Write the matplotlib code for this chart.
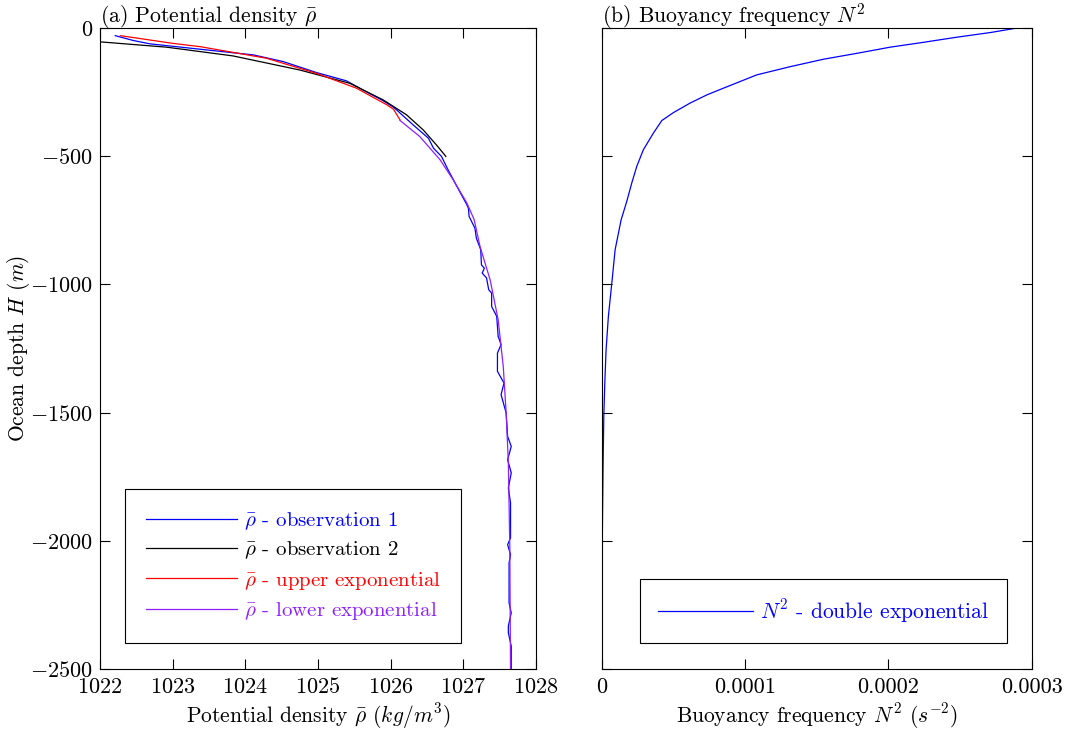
import matplotlib
matplotlib.use("Agg")
import matplotlib.pyplot as plt
import numpy as np

plt.rcParams["font.family"] = "serif"
plt.rcParams["font.serif"] = ["cmr10", "DejaVu Serif"]
plt.rcParams["mathtext.fontset"] = "cm"
plt.rcParams["axes.formatter.use_mathtext"] = True
plt.rcParams["font.size"] = 15

# observation 1 (depth in m, potential density in kg/m^3)
obs1_depth = [-30, -49, -62, -83, -105, -131, -174, -206, -242, -281, -309, -378, -430,
              -469, -501, -553, -638, -690, -703, -735, -781, -820, -865, -924, -937,
              -956, -975, -1021, -1034, -1086, -1125, -1203, -1235, -1268, -1339, -1385,
              -1430, -1502, -1593, -1632, -1684, -1735, -1794, -1852, -1989, -2015,
              -2054, -2087, -2242, -2281, -2333, -2359, -2411, -2500]
obs1_rho = [1022.21, 1022.46, 1022.69, 1023.38, 1024.11, 1024.52, 1024.98, 1025.39,
            1025.62, 1025.88, 1026.04, 1026.31, 1026.52, 1026.59, 1026.70, 1026.79,
            1026.95, 1027.05, 1027.07, 1027.08, 1027.16, 1027.18, 1027.24, 1027.25,
            1027.29, 1027.26, 1027.32, 1027.35, 1027.39, 1027.39, 1027.46, 1027.48,
            1027.52, 1027.47, 1027.47, 1027.56, 1027.52, 1027.59, 1027.61, 1027.66,
            1027.61, 1027.66, 1027.62, 1027.65, 1027.65, 1027.61, 1027.65, 1027.63,
            1027.63, 1027.66, 1027.62, 1027.62, 1027.66, 1027.66]

# observation 2
obs2_depth = [-53, -75, -109, -164, -216, -281, -339, -398, -456, -501]
obs2_rho = [1021.95, 1022.92, 1023.83, 1024.75, 1025.44, 1025.90, 1026.22, 1026.45,
            1026.63, 1026.76]

# upper exponential fit
upper_depth = [-30, -60, -73, -118, -177, -235, -300, -317, -359]
upper_rho = [1022.28, 1023.0, 1023.38, 1024.29, 1024.98, 1025.53, 1025.95, 1026.04, 1026.13]

# lower exponential fit
lower_depth = [-361, -423, -514, -592, -683, -748, -852, -983, -1138, -1320, -1502,
               -1696, -2021, -2500]
lower_rho = [1026.13, 1026.40, 1026.68, 1026.86, 1027.05, 1027.15, 1027.23, 1027.37,
             1027.48, 1027.55, 1027.59, 1027.62, 1027.64, 1027.65]

# buoyancy frequency N^2 (s^-2)
n2_depth = [0, -18, -36, -56, -75, -99, -122, -151, -183, -235, -261, -293, -330, -361,
            -410, -475, -540, -605, -677, -748, -865, -995, -1125, -1255, -1385, -1515,
            -1710, -1970, -2500]
n2_value = [2.90e-4, 2.709e-4, 2.477e-4, 2.244e-4, 2.011e-4, 1.779e-4, 1.546e-4,
            1.314e-4, 1.081e-4, 0.848e-4, 0.733e-4, 0.616e-4, 0.500e-4, 0.419e-4,
            0.360e-4, 0.290e-4, 0.244e-4, 0.209e-4, 0.174e-4, 0.135e-4, 0.093e-4,
            0.070e-4, 0.046e-4, 0.030e-4, 0.021e-4, 0.014e-4, 0.009e-4, 0.004e-4, 0.0]

c_blue = "#0000ff"
c_red = "#ff0000"
c_purple = "#8f1fff"

fig = plt.figure(figsize=(10.67, 7.32), dpi=100)
ax0 = fig.add_axes([0.0937, 0.0861, 0.4086, 0.8757])
ax1 = fig.add_axes([0.564, 0.0861, 0.403, 0.8757])

lw = 0.9
ax0.plot(obs1_rho, obs1_depth, color=c_blue, linewidth=lw, label=r"$\bar{\rho}$ - observation 1")
ax0.plot(obs2_rho, obs2_depth, color="black", linewidth=lw, label=r"$\bar{\rho}$ - observation 2")
ax0.plot(upper_rho, upper_depth, color=c_red, linewidth=lw, label=r"$\bar{\rho}$ - upper exponential")
ax0.plot(lower_rho, lower_depth, color=c_purple, linewidth=lw, label=r"$\bar{\rho}$ - lower exponential")
ax0.set_xlim(1022, 1028)
ax0.set_ylim(-2500, 0)
ax0.set_xticks(np.arange(1022, 1029, 1))
ax0.set_yticks(np.arange(-2500, 1, 500))
ax0.set_title(r"(a) Potential density $\bar{\rho}$", loc="left", pad=4, fontsize=15.6)
ax0.set_xlabel(r"Potential density $\bar{\rho}$ $(kg/m^3)$", labelpad=3, fontsize=15.5)
ax0.set_ylabel(r"Ocean depth $H$ $(m)$", labelpad=-1, fontsize=15.5)

leg0 = ax0.legend(loc="lower left", bbox_to_anchor=(0.057, 0.0406), borderaxespad=0,
                  fancybox=False, edgecolor="black", framealpha=1, handlelength=4.4,
                  handletextpad=0.3, borderpad=1.0, labelspacing=0.4, fontsize=15)
leg0.get_frame().set_linewidth(0.8)
for txt, c in zip(leg0.get_texts(), [c_blue, "black", c_red, c_purple]):
    txt.set_color(c)

ax1.plot(n2_value, n2_depth, color=c_blue, linewidth=lw, label=r"$N^2$ - double exponential")
ax1.set_xlim(0, 0.0003)
ax1.set_ylim(-2500, 0)
ax1.set_xticks([0, 0.0001, 0.0002, 0.0003])
ax1.set_xticklabels(["0", "0.0001", "0.0002", "0.0003"])
ax1.set_yticks(np.arange(-2500, 1, 500))
ax1.set_yticklabels([])
ax1.set_title(r"(b) Buoyancy frequency $N^2$", loc="left", pad=4, fontsize=15.6)
ax1.set_xlabel(r"Buoyancy frequency $N^2$ $(s^{-2})$", labelpad=3, fontsize=15.5)

leg1 = ax1.legend(loc="lower left", bbox_to_anchor=(0.089, 0.0406), borderaxespad=0,
                  fancybox=False, edgecolor="black", framealpha=1, handlelength=4.4,
                  handletextpad=0.3, borderpad=0.85, fontsize=15.5)
leg1.get_frame().set_linewidth(0.8)
for txt in leg1.get_texts():
    txt.set_color(c_blue)

for ax in [ax0, ax1]:
    ax.tick_params(direction="in", length=7, width=0.8, top=True, right=True,
                   labelsize=16)
    ax.tick_params(axis="x", pad=6)
    ax.tick_params(axis="y", pad=5)
    for sp in ax.spines.values():
        sp.set_linewidth(0.8)

fig.savefig("out.png", dpi=100)
